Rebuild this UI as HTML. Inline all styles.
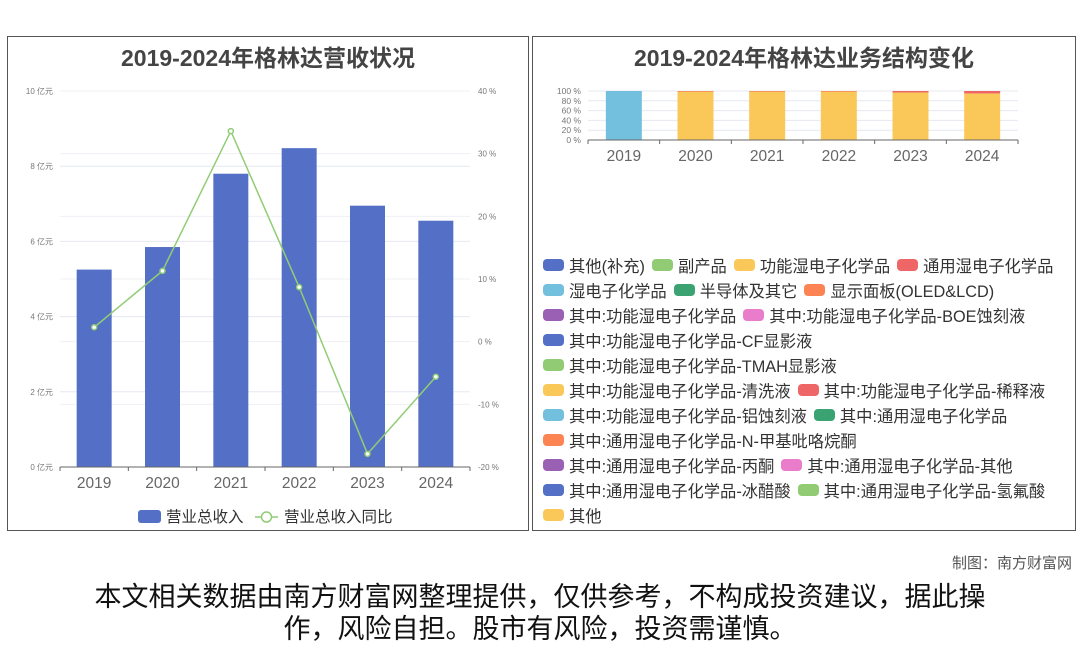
<!DOCTYPE html>
<html><head><meta charset="utf-8">
<style>
body{margin:0;width:1080px;height:646px;background:#fff;font-family:"Liberation Sans","Noto Sans CJK SC",sans-serif;position:relative;overflow:hidden}
.panel{position:absolute;border:1px solid #555;background:#fff}
.title{position:absolute;width:100%;text-align:center;font-weight:bold;font-size:23px;color:#444;top:2px}
.leg{position:absolute;left:10px;top:215px;font-size:16.3px;color:#333}
.row{height:25px;display:flex;align-items:center;white-space:nowrap}
.it{display:flex;align-items:center;margin-right:7px}
.sw{width:21px;height:12px;border-radius:4px;margin-right:5px}
.note{position:absolute;right:8px;top:552px;font-size:15px;color:#555}
.disc{position:absolute;left:0;width:1080px;top:581px;text-align:center;font-size:27px;line-height:32px;color:#111}
</style></head><body>
<div class="panel" style="left:7px;top:36px;width:520px;height:493px">
<div class="title">2019-2024年格林达营收状况</div>
</div>
<svg id="c1" width="528" height="530" style="position:absolute;left:0;top:0"></svg>
<div class="panel" style="left:532px;top:36px;width:542px;height:493px">
<div class="title">2019-2024年格林达业务结构变化</div>
<div class="leg">
<div class="row"><span class="it"><i class="sw" style="background:#5470c6"></i>其他(补充)</span><span class="it"><i class="sw" style="background:#91cc75"></i>副产品</span><span class="it"><i class="sw" style="background:#fac858"></i>功能湿电子化学品</span><span class="it"><i class="sw" style="background:#ee6666"></i>通用湿电子化学品</span></div>
<div class="row"><span class="it"><i class="sw" style="background:#73c0de"></i>湿电子化学品</span><span class="it"><i class="sw" style="background:#3ba272"></i>半导体及其它</span><span class="it"><i class="sw" style="background:#fc8452"></i>显示面板(OLED&amp;LCD)</span></div>
<div class="row"><span class="it"><i class="sw" style="background:#9a60b4"></i>其中:功能湿电子化学品</span><span class="it"><i class="sw" style="background:#ea7ccc"></i>其中:功能湿电子化学品-BOE蚀刻液</span></div>
<div class="row"><span class="it"><i class="sw" style="background:#5470c6"></i>其中:功能湿电子化学品-CF显影液</span></div>
<div class="row"><span class="it"><i class="sw" style="background:#91cc75"></i>其中:功能湿电子化学品-TMAH显影液</span></div>
<div class="row"><span class="it"><i class="sw" style="background:#fac858"></i>其中:功能湿电子化学品-清洗液</span><span class="it"><i class="sw" style="background:#ee6666"></i>其中:功能湿电子化学品-稀释液</span></div>
<div class="row"><span class="it"><i class="sw" style="background:#73c0de"></i>其中:功能湿电子化学品-铝蚀刻液</span><span class="it"><i class="sw" style="background:#3ba272"></i>其中:通用湿电子化学品</span></div>
<div class="row"><span class="it"><i class="sw" style="background:#fc8452"></i>其中:通用湿电子化学品-N-甲基吡咯烷酮</span></div>
<div class="row"><span class="it"><i class="sw" style="background:#9a60b4"></i>其中:通用湿电子化学品-丙酮</span><span class="it"><i class="sw" style="background:#ea7ccc"></i>其中:通用湿电子化学品-其他</span></div>
<div class="row"><span class="it"><i class="sw" style="background:#5470c6"></i>其中:通用湿电子化学品-冰醋酸</span><span class="it"><i class="sw" style="background:#91cc75"></i>其中:通用湿电子化学品-氢氟酸</span></div>
<div class="row"><span class="it"><i class="sw" style="background:#fac858"></i>其他</span></div>
</div>
</div>
<svg id="c2" width="1080" height="200" style="position:absolute;left:0;top:0"></svg>
<div class="note">制图：南方财富网</div>
<div class="disc">本文相关数据由南方财富网整理提供，仅供参考，不构成投资建议，据此操<br>作，风险自担。股市有风险，投资需谨慎。</div>
<script>
const years=["2019","2020","2021","2022","2023","2024"];
const revenue=[5.25,5.85,7.8,8.48,6.95,6.55];
const growth=[2.3,11.3,33.6,8.7,-17.9,-5.6];
const leftTicks=[0,2,4,6,8,10];
const rightTicks=[-20,-10,0,10,20,30,40];
const shareCyan=[100,0,0,0,0,0];
const shareYellow=[0,99,99,99,97,95];
const shareRed=[0,1,1,1,3,5];
const pctTicks=[0,20,40,60,80,100];
const NS="http://www.w3.org/2000/svg";
function mk(svg,tag,a,txt){const e=document.createElementNS(NS,tag);for(const k in a)e.setAttribute(k,a[k]);if(txt!==undefined)e.textContent=txt;svg.appendChild(e);return e;}
// chart 1
const s1=document.getElementById('c1');
const X0=60,X1=470,Y0=467,Y1=91,cw=(X1-X0)/years.length;
const yL=v=>Y0-(v/10)*(Y0-Y1);
const yR=v=>Y0-((v+20)/60)*(Y0-Y1);
const xc=i=>X0+cw*(i+0.5);
leftTicks.forEach(t=>{const g=mk(s1,'line',{x1:X0,x2:X1,y1:yL(t),y2:yL(t),stroke:'#e6e8f2'});
const l=mk(s1,'text',{x:53,y:yL(t)+3,'text-anchor':'end','font-size':8,fill:'#777'},t+' 亿元');});
rightTicks.forEach(t=>{mk(s1,'line',{x1:X0,x2:X1,y1:yR(t),y2:yR(t),stroke:'#eef0f6'});
const l=mk(s1,'text',{x:478,y:yR(t)+3,'font-size':8,fill:'#777'},t+' %');});
revenue.forEach((v,i)=>{const r=mk(s1,'rect',{x:xc(i)-17.5,y:yL(v),width:35,height:Y0-yL(v),fill:'#5470c6'});

});
mk(s1,'line',{x1:X0,x2:X1,y1:Y0,y2:Y0,stroke:'#666'});
years.forEach((y,i)=>{mk(s1,'line',{x1:X0+cw*i,x2:X0+cw*i,y1:Y0,y2:Y0+4,stroke:'#666'});
const t=mk(s1,'text',{x:xc(i),y:488,'text-anchor':'middle','font-size':15.5,fill:'#666'},y);});
mk(s1,'line',{x1:X1,x2:X1,y1:Y0,y2:Y0+4,stroke:'#666'});
const pl=mk(s1,'polyline',{points:growth.map((v,i)=>xc(i)+','+yR(v)).join(' '),fill:'none',stroke:'#91cc75','stroke-width':1.5});

growth.forEach((v,i)=>{const c=mk(s1,'circle',{cx:xc(i),cy:yR(v),r:2.5,fill:'#fff',stroke:'#91cc75','stroke-width':1.5});});
const lg1=mk(s1,'rect',{x:138,y:510,width:23,height:13,rx:3,fill:'#5470c6'});
mk(s1,'text',{x:166,y:522,'font-size':15.5,fill:'#333'},'营业总收入');
mk(s1,'line',{x1:255,x2:278,y1:517,y2:517,stroke:'#91cc75','stroke-width':1.5});
const lg2=mk(s1,'circle',{cx:266.5,cy:517,r:5,fill:'#fff',stroke:'#91cc75','stroke-width':1.5});
mk(s1,'text',{x:284,y:522,'font-size':15.5,fill:'#333'},'营业总收入同比');
// chart 2
const s2=document.getElementById('c2');
const A0=588,A1=1018,B0=140,B1=91,cw2=(A1-A0)/years.length;
const yP=v=>B0-(v/100)*(B0-B1);const xc2=i=>A0+cw2*(i+0.5);
pctTicks.forEach(t=>{mk(s2,'line',{x1:A0,x2:A1,y1:yP(t),y2:yP(t),stroke:'#e6e8f2'});
const l=mk(s2,'text',{x:581,y:yP(t)+3,'text-anchor':'end','font-size':8.5,fill:'#777'},t+' %');});
years.forEach((y,i)=>{let base=0;[[shareCyan,'#73c0de'],[shareYellow,'#fac858'],[shareRed,'#ee6666']].forEach(([arr,c])=>{const v=arr[i];if(v>0){const r=mk(s2,'rect',{x:xc2(i)-18,y:yP(base+v),width:36,height:yP(base)-yP(base+v),fill:c});

}base+=v;});
const t=mk(s2,'text',{x:xc2(i),y:161,'text-anchor':'middle','font-size':15.5,fill:'#666'},y);
mk(s2,'line',{x1:A0+cw2*i,x2:A0+cw2*i,y1:B0,y2:B0+4,stroke:'#666'});});
mk(s2,'line',{x1:A1,x2:A1,y1:B0,y2:B0+4,stroke:'#666'});
mk(s2,'line',{x1:A0,x2:A1,y1:B0,y2:B0,stroke:'#666'});
</script>
</body></html>
